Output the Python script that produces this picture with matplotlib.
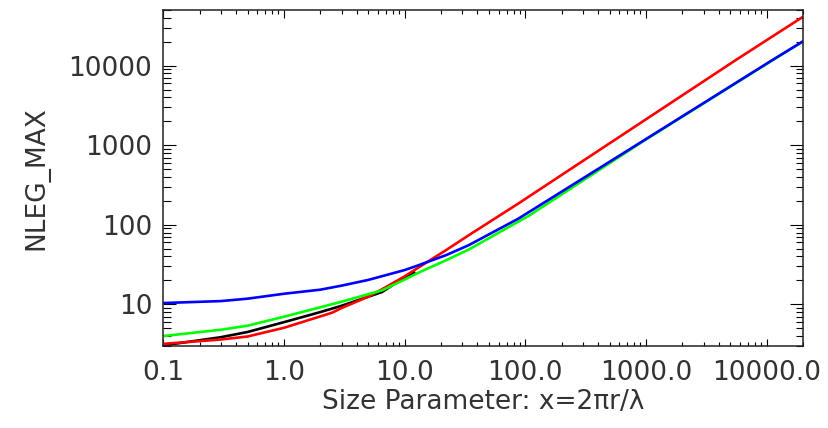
import numpy as np
import matplotlib.pyplot as plt
from matplotlib.ticker import LogLocator, FixedLocator, FixedFormatter, NullFormatter

# values
x_black = [0.1, 0.3, 0.5, 1.0, 2.0, 3.0, 6.5, 10.5, 12.0]
n_black = [3.05, 3.87, 4.5, 5.98, 8.0, 9.6, 14.3, 23.0, 25.0]

x_red = [0.1, 0.3, 0.5, 1.0, 2.0, 2.5, 3.0, 5.0, 6.5, 10.0, 13.0, 22.0, 34.0, 88.0, 5620.0, 20000.0]
n_red = [3.19, 3.62, 3.95, 5.08, 7.06, 7.85, 9.0, 12.5, 15.5, 22.5, 29.0, 48.0, 74.0, 186.0, 11900.0, 41100.0]

x_green = [0.1, 0.3, 0.5, 1.0, 2.0, 3.0, 6.5, 10.0, 13.0, 22.0, 34.0, 107.0, 1000.0, 11300.0, 20000.0]
n_green = [4.0, 4.8, 5.4, 7.0, 9.2, 10.8, 15.0, 20.5, 25.0, 35.8, 48.9, 130.0, 1180.0, 11800.0, 20100.0]

x_blue = [0.1, 0.3, 0.5, 1.0, 2.0, 3.0, 5.0, 10.0, 13.0, 22.0, 34.0, 88.0, 1000.0, 11300.0, 20000.0]
n_blue = [10.4, 11.0, 11.8, 13.6, 15.3, 17.2, 20.3, 27.0, 31.0, 41.5, 55.5, 120.0, 1195.0, 11900.0, 20200.0]

x_ticks = [0.1, 1.0, 10.0, 100.0, 1000.0, 10000.0]
y_ticks = [10, 100, 1000, 10000]

fig = plt.figure(figsize=(8.29, 4.28), dpi=100)
ax = fig.add_axes([0.197, 0.1916, 0.7716, 0.785])

lw = 1.9
ax.plot(x_black, n_black, color="black", linewidth=lw)
ax.plot(x_red, n_red, color="#ff0000", linewidth=lw)
ax.plot(x_green, n_green, color="#00ff00", linewidth=lw)
ax.plot(x_blue, n_blue, color="#0000ff", linewidth=lw)

ax.set_xscale("log")
ax.set_yscale("log")
ax.set_xlim(0.1, 2e4)
ax.set_ylim(3, 5e4)

ax.xaxis.set_major_locator(FixedLocator(x_ticks))
ax.xaxis.set_major_formatter(FixedFormatter([f"{v:.1f}" for v in x_ticks]))
ax.xaxis.set_minor_locator(LogLocator(base=10, subs=np.arange(2, 10)))
ax.xaxis.set_minor_formatter(NullFormatter())
ax.yaxis.set_major_locator(FixedLocator(y_ticks))
ax.yaxis.set_major_formatter(FixedFormatter([str(v) for v in y_ticks]))
ax.yaxis.set_minor_locator(LogLocator(base=10, subs=np.arange(2, 10)))
ax.yaxis.set_minor_formatter(NullFormatter())

txt_color = "#333333"
ax.tick_params(axis="both", which="both", direction="in", top=True, right=True,
               width=0.8, colors="black", labelsize=19, labelcolor=txt_color)
ax.tick_params(axis="x", which="major", length=5.4, pad=10)
ax.tick_params(axis="x", which="minor", length=3.2)
ax.tick_params(axis="y", which="major", length=9.7, pad=8)
ax.tick_params(axis="y", which="minor", length=5.4)

for s in ax.spines.values():
    s.set_linewidth(1.1)
    s.set_color("#222222")

ax.set_xlabel("Size Parameter: x=2\u03c0r/\u03bb", fontsize=19, color=txt_color, labelpad=2)
ax.set_ylabel("NLEG_MAX", fontsize=19, color=txt_color, labelpad=14)

fig.savefig("out.png", dpi=100)
